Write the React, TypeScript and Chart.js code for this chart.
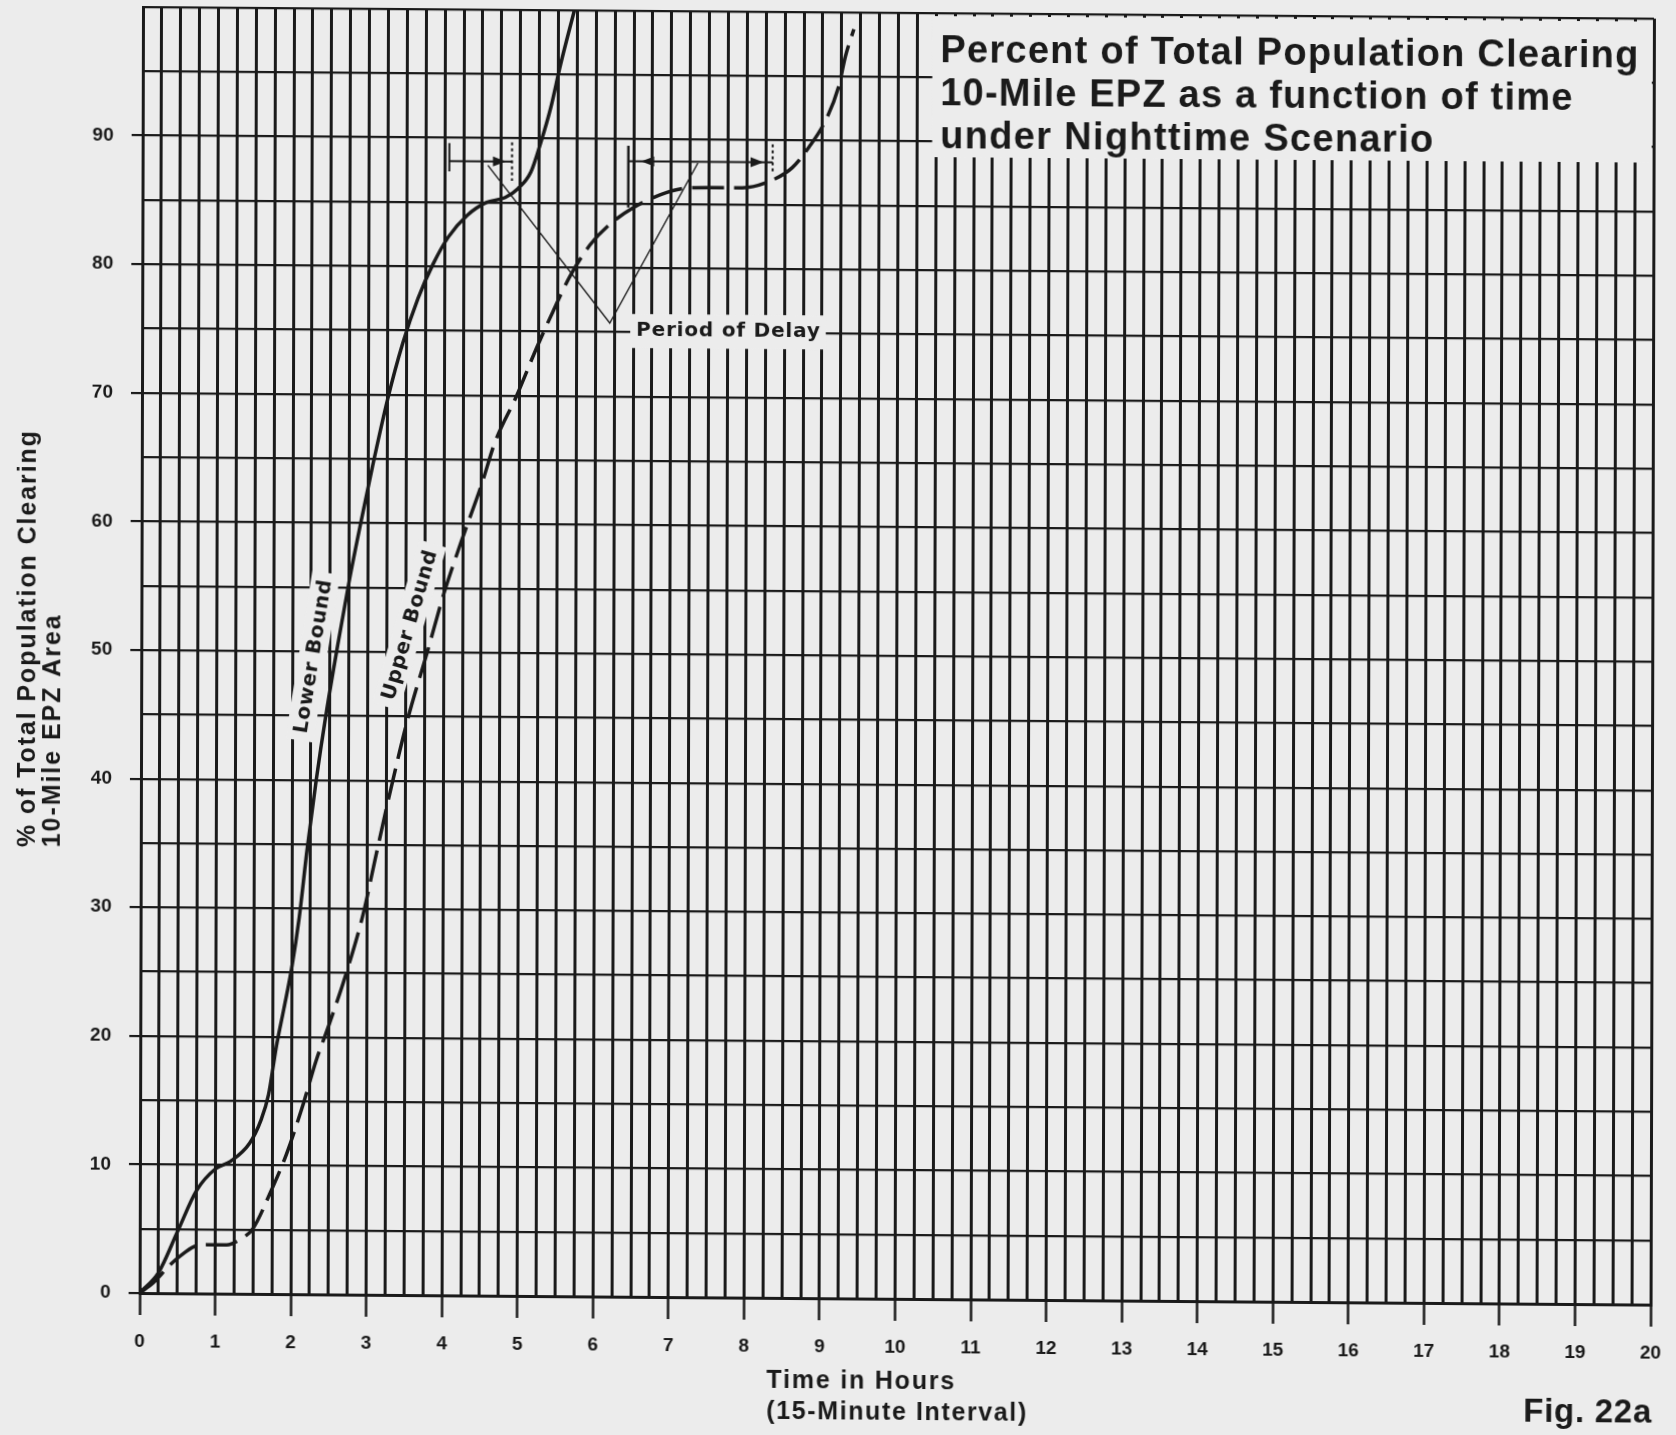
import React, { useEffect, useRef } from 'react';
import { Chart, registerables } from 'chart.js';

Chart.register(...registerables);

// ---------------- data ----------------
const hourLabels = ['0', '1', '2', '3', '4', '5', '6', '7', '8', '9', '10', '11', '12', '13', '14', '15', '16', '17', '18', '19', '20'];
const percentLabels = ['0', '10', '20', '30', '40', '50', '60', '70', '80', '90'];

const lowerBoundHours = [0, 0.25, 0.5, 0.75, 1.0, 1.2, 1.45, 1.6, 1.7, 1.8, 1.9, 2.0, 2.1, 2.2, 2.32, 2.45, 2.6, 2.75, 2.9, 3.05, 3.25, 3.45, 3.65, 3.85, 4.05, 4.3, 4.55, 4.8, 4.97, 5.14, 5.27, 5.4, 5.53, 5.71];
const lowerBoundPercent = [0, 1.6, 4.8, 8.0, 9.7, 10.3, 11.7, 13.5, 15.5, 19.2, 22.2, 25.3, 29.3, 34.5, 40, 45.2, 50.5, 55.5, 60, 64.3, 69.6, 74.0, 77.5, 80.2, 82.3, 84.0, 85.0, 85.4, 86.1, 87.4, 89.7, 92.4, 95.8, 100];

const upperBoundHours = [0, 0.18, 0.4, 0.58, 0.75, 1.0, 1.15, 1.32, 1.5, 1.72, 1.94, 2.16, 2.33, 2.5, 2.73, 2.95, 3.1, 3.31, 3.53, 3.79, 4.01, 4.23, 4.5, 4.67, 4.96, 5.22, 5.44, 5.66, 5.93, 6.19, 6.5, 6.85, 7.15, 7.5, 7.94, 8.29, 8.6, 8.82, 9.04, 9.21, 9.3, 9.41];
const upperBoundPercent = [0, 0.8, 2.2, 3.1, 3.7, 3.8, 3.8, 4.2, 5.1, 7.8, 10.9, 14.8, 18.2, 21, 25.1, 29.7, 33.8, 39.4, 44.8, 50.1, 54.7, 58.6, 63.1, 66.3, 70, 73.7, 76.6, 79.3, 81.8, 83.4, 84.7, 85.7, 86.2, 86.3, 86.3, 86.8, 87.9, 89.5, 91.6, 94.2, 96.6, 98.7];

const chartTitle = ['Percent of Total Population Clearing', '10-Mile EPZ as a function of time', 'under Nighttime Scenario'];
const yAxisTitle = ['% of Total Population Clearing', '10-Mile EPZ Area'];
const xAxisTitle = ['Time in Hours', '(15-Minute Interval)'];
const figureLabel = 'Fig. 22a';
const delayLabel = 'Period of Delay';
const lowerLabel = 'Lower Bound';
const upperLabel = 'Upper Bound';

// annotation anchors read in chart units (hours, percent)
const lowerDelayHours = [4.06, 4.81, 4.89];
const lowerDelayPercent = 88.2;
const upperDelayHours = [6.43, 6.6, 8.22, 8.34];
const upperDelayPercent = 88.3;
const pointerHours = [4.57, 6.19, 7.35];
const pointerPercent = [87.9, 75.7, 88.2];
const delayLabelHours = [6.54, 8.97];
const delayLabelPercent = 75.1;
const lowerLabelAt = [2.27, 49.6];
const upperLabelAt = [3.546, 52.1];
const titlePanelFrom = [10.45, 88.8];

// ---------------- styling ----------------
const INK = '#1a1a1a';
const PAPER = '#ececec';
const SANS = '"Liberation Sans", Arial, Helvetica, sans-serif';
const WIDE = '"DejaVu Sans", "Liberation Sans", sans-serif';

function spread(ctx: any, text: string, x: number, y: number, font: string, width: number, align: string) {
  ctx.font = font;
  ctx.letterSpacing = '0px';
  const natural = ctx.measureText(text).width;
  const ls = (width - natural) / Math.max(1, text.length - 1);
  ctx.letterSpacing = ls.toFixed(2) + 'px';
  ctx.textAlign = 'left';
  const start = align === 'center' ? x - width / 2 : align === 'right' ? x - width : x;
  ctx.fillText(text, start, y);
  ctx.letterSpacing = '0px';
}

function arrowHead(ctx: any, tx: number, ty: number, dir: number) {
  ctx.beginPath();
  ctx.moveTo(tx, ty);
  ctx.lineTo(tx - dir * 13, ty - 5);
  ctx.lineTo(tx - dir * 13, ty + 5);
  ctx.closePath();
  ctx.fill();
}

const overlayPlugin = {
  id: 'overlay',
  beforeDatasetsDraw(chart: any) {
    const { ctx, chartArea: a } = chart;
    const xs = chart.scales.x;
    const ys = chart.scales.y;
    ctx.save();
    ctx.fillStyle = PAPER;
    // title panel covering the grid
    const pl = xs.getPixelForValue(titlePanelFrom[0]);
    const pb = ys.getPixelForValue(titlePanelFrom[1]);
    ctx.fillRect(pl, a.top + 3, a.right - 2 - pl, pb - a.top - 3);
    // period of delay label background
    const dl = xs.getPixelForValue(delayLabelHours[0]) - 6;
    const dr = xs.getPixelForValue(delayLabelHours[1]) + 6;
    const dc = ys.getPixelForValue(delayLabelPercent);
    ctx.fillRect(dl, dc - 17, dr - dl, 34);
    // rotated curve label backgrounds
    const labs: any[] = [[lowerLabelAt, -81], [upperLabelAt, -74]];
    labs.forEach(([at, ang]) => {
      ctx.save();
      ctx.translate(xs.getPixelForValue(at[0]), ys.getPixelForValue(at[1]));
      ctx.rotate((ang * Math.PI) / 180);
      ctx.fillRect(-85, -14, 170, 28);
      ctx.restore();
    });
    ctx.restore();
  },
  afterDatasetsDraw(chart: any) {
    const { ctx } = chart;
    const xs = chart.scales.x;
    const ys = chart.scales.y;
    const X = (h: number) => xs.getPixelForValue(h);
    const Y = (p: number) => ys.getPixelForValue(p);
    ctx.save();
    ctx.strokeStyle = INK;
    ctx.fillStyle = INK;

    // pointer lines of "Period of Delay"
    ctx.lineWidth = 1.4;
    ctx.beginPath();
    ctx.moveTo(X(pointerHours[0]), Y(pointerPercent[0]));
    ctx.lineTo(X(pointerHours[1]), Y(pointerPercent[1]));
    ctx.lineTo(X(pointerHours[2]), Y(pointerPercent[2]));
    ctx.stroke();

    // lower-bound delay bracket
    const ly = Y(lowerDelayPercent);
    ctx.lineWidth = 2;
    ctx.beginPath();
    ctx.moveTo(X(lowerDelayHours[0]), ly);
    ctx.lineTo(X(lowerDelayHours[2]), ly);
    ctx.moveTo(X(lowerDelayHours[0]), Y(89.6));
    ctx.lineTo(X(lowerDelayHours[0]), Y(87.4));
    ctx.stroke();
    arrowHead(ctx, X(lowerDelayHours[1]), ly, 1);
    ctx.setLineDash([3, 3]);
    ctx.beginPath();
    ctx.moveTo(X(lowerDelayHours[2]), Y(89.7));
    ctx.lineTo(X(lowerDelayHours[2]), Y(86.7));
    ctx.stroke();
    ctx.setLineDash([]);

    // upper-bound delay bracket
    const uy = Y(upperDelayPercent);
    ctx.lineWidth = 2;
    ctx.beginPath();
    ctx.moveTo(X(upperDelayHours[0]), uy);
    ctx.lineTo(X(upperDelayHours[3]), uy);
    ctx.stroke();
    ctx.lineWidth = 2.5;
    ctx.beginPath();
    ctx.moveTo(X(upperDelayHours[0]), Y(89.5));
    ctx.lineTo(X(upperDelayHours[0]), Y(84.7));
    ctx.stroke();
    arrowHead(ctx, X(upperDelayHours[1]), uy, -1);
    arrowHead(ctx, X(upperDelayHours[2]), uy, 1);
    ctx.lineWidth = 2;
    ctx.setLineDash([3, 3]);
    ctx.beginPath();
    ctx.moveTo(X(upperDelayHours[3]), Y(89.7));
    ctx.lineTo(X(upperDelayHours[3]), Y(87.4));
    ctx.stroke();
    ctx.setLineDash([]);

    // "Period of Delay"
    ctx.textBaseline = 'middle';
    const dl = X(delayLabelHours[0]);
    const dr = X(delayLabelHours[1]);
    spread(ctx, delayLabel, dl, Y(delayLabelPercent), 'bold 20px ' + WIDE, dr - dl, 'left');

    // curve labels
    const labs: any[] = [[lowerLabel, lowerLabelAt, -81], [upperLabel, upperLabelAt, -74]];
    labs.forEach(([txt, at, ang]) => {
      ctx.save();
      ctx.translate(X(at[0]), Y(at[1]));
      ctx.rotate((ang * Math.PI) / 180);
      ctx.textBaseline = 'middle';
      spread(ctx, txt, 0, 1, 'bold 20px ' + WIDE, 155, 'center');
      ctx.restore();
    });

    // title panel text
    const tl = X(titlePanelFrom[0]) + 8;
    const titleWidths = [698, 632, 493];
    const titleRows = [46, 89, 132];
    ctx.textBaseline = 'middle';
    chartTitle.forEach((line, i) => {
      spread(ctx, line, tl, titleRows[i], 'bold 38px ' + SANS, titleWidths[i], 'left');
    });

    ctx.restore();
  },
  afterDraw(chart: any) {
    const { ctx } = chart;
    ctx.save();
    ctx.fillStyle = INK;
    ctx.textBaseline = 'middle';
    // y axis title (rotated, starting at the bottom)
    const yCols = [30, 55];
    const yWidths = [416, 232];
    yAxisTitle.forEach((line, i) => {
      ctx.save();
      ctx.translate(yCols[i], 848);
      ctx.rotate(-Math.PI / 2);
      spread(ctx, line, 0, 0, 'bold 25px ' + SANS, yWidths[i], 'left');
      ctx.restore();
    });
    // x axis title
    const xRows = [1376, 1407];
    const xWidths = [188, 260];
    xAxisTitle.forEach((line, i) => {
      spread(ctx, line, 770, xRows[i], 'bold 25px ' + SANS, xWidths[i], 'left');
    });
    // figure label
    spread(ctx, figureLabel, 1527, 1402, 'bold 33px ' + SANS, 128, 'left');
    ctx.restore();
  },
};

function isLabel(list: string[], v: any) {
  return list.indexOf(String(v)) >= 0;
}

function pinScale(size: { width?: number; height?: number }) {
  return (s: any) => {
    if (size.width !== undefined) s.width = size.width;
    if (size.height !== undefined) s.height = size.height;
    s.paddingTop = 0;
    s.paddingBottom = 0;
    s.paddingLeft = 0;
    s.paddingRight = 0;
  };
}

export default function App() {
  const ref = useRef<HTMLCanvasElement>(null);

  useEffect(() => {
    const canvas = ref.current;
    if (!canvas) return;
    const lower = lowerBoundHours.map((h, i) => ({ x: h, y: lowerBoundPercent[i] }));
    const upper = upperBoundHours.map((h, i) => ({ x: h, y: upperBoundPercent[i] }));
    const chart = new Chart(canvas, {
      type: 'line',
      data: {
        datasets: [
          {
            label: lowerLabel,
            data: lower,
            borderColor: INK,
            borderWidth: 3.5,
            pointRadius: 0,
            fill: false,
            cubicInterpolationMode: 'monotone',
          },
          {
            label: upperLabel,
            data: upper,
            borderColor: INK,
            borderWidth: 3.5,
            borderDash: [32, 10],
            pointRadius: 0,
            fill: false,
            cubicInterpolationMode: 'monotone',
          },
        ],
      },
      options: {
        responsive: false,
        maintainAspectRatio: false,
        animation: false,
        devicePixelRatio: 1,
        layout: { padding: { left: 0, top: 7, right: 22, bottom: 0 } },
        plugins: {
          legend: { display: false },
          tooltip: { enabled: false },
          title: { display: false },
        },
        scales: {
          x: {
            type: 'linear',
            min: 0,
            max: 20,
            afterFit: pinScale({ height: 142 }),
            ticks: {
              stepSize: 0.25,
              autoSkip: false,
              maxRotation: 0,
              minRotation: 0,
              padding: 15,
              color: INK,
              font: { family: SANS, size: 19, weight: 'bold' },
              callback: (v: any) => (isLabel(hourLabels, v) ? String(v) : ''),
            },
            grid: {
              color: INK,
              lineWidth: 3,
              tickLength: 22,
              tickWidth: 2.5,
              tickColor: (c: any) => (c.tick && isLabel(hourLabels, c.tick.value) ? INK : 'rgba(0,0,0,0)'),
            },
            border: { display: true, color: INK, width: 3 },
          },
          y: {
            type: 'linear',
            min: 0,
            max: 100,
            afterFit: pinScale({ width: 143 }),
            ticks: {
              stepSize: 5,
              autoSkip: false,
              padding: 18,
              color: INK,
              font: { family: SANS, size: 19, weight: 'bold' },
              callback: (v: any) => (isLabel(percentLabels, v) ? String(v) : ''),
            },
            grid: {
              color: INK,
              lineWidth: 2.2,
              tickLength: 11,
              tickWidth: 2.2,
              tickColor: (c: any) => (c.tick && isLabel(percentLabels, c.tick.value) ? INK : 'rgba(0,0,0,0)'),
            },
            border: { display: true, color: INK, width: 3 },
          },
        },
      },
      plugins: [overlayPlugin],
    } as any);
    return () => chart.destroy();
  }, []);

  return (
    <div
      style={{
        position: 'absolute',
        left: 0,
        top: 0,
        width: 1676,
        height: 1435,
        background: PAPER,
        overflow: 'hidden',
      }}
    >
      <canvas
        ref={ref}
        width={1676}
        height={1435}
        style={{
          display: 'block',
          width: 1676,
          height: 1435,
          transformOrigin: '143px 11px',
          transform: 'matrix(1, 0.0077, -0.00265, 1, 0, 0)',
        }}
      />
    </div>
  );
}
